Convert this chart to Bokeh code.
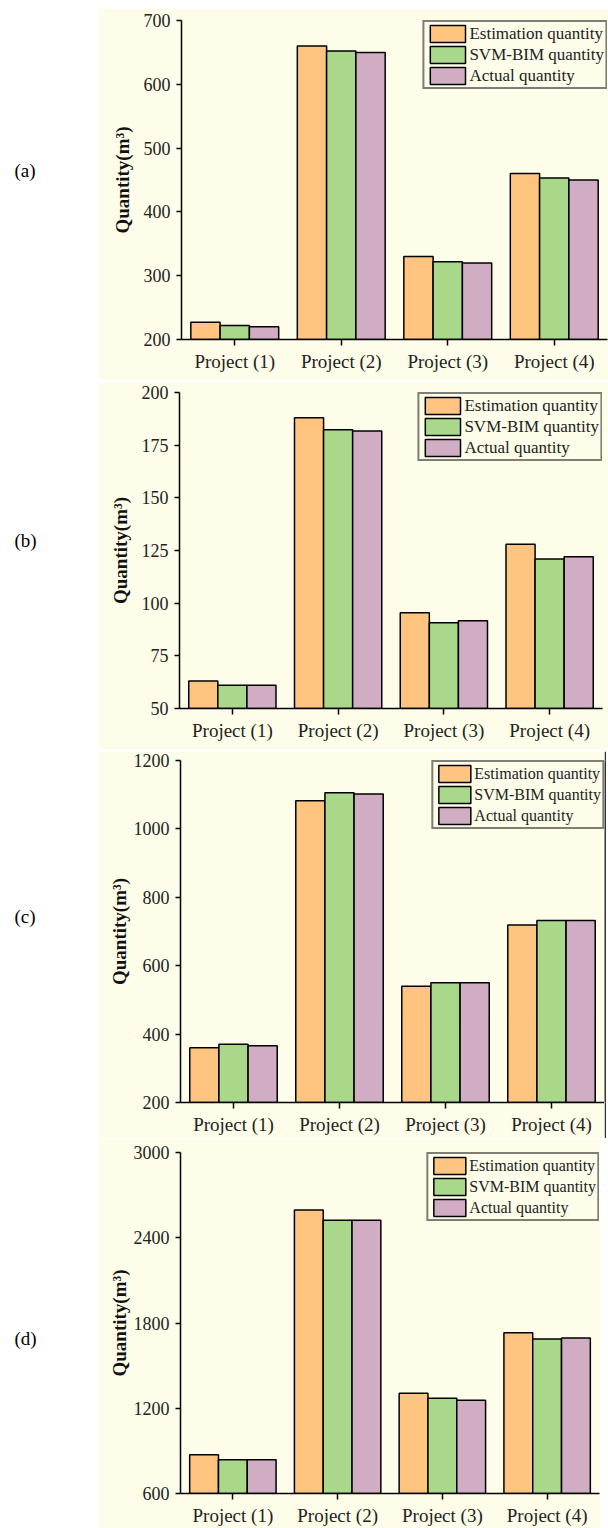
from bokeh.plotting import figure
from bokeh.layouts import row, column
from bokeh.models import ColumnDataSource, FixedTicker, Legend, LegendItem, Range1d, FactorRange
from bokeh.transform import dodge
from bokeh.core.properties import value
from bokeh.embed import file_html
from bokeh.resources import INLINE

projects = ["Project (1)", "Project (2)", "Project (3)", "Project (4)"]
series_names = ["Estimation quantity", "SVM-BIM quantity", "Actual quantity"]
series_colors = ["#FFC480", "#A9D88B", "#D1ADC4"]

a_est = [227, 660, 330, 460]
a_svm = [222, 652, 322, 453]
a_act = [220, 650, 320, 450]
a_ticks = [200, 300, 400, 500, 600, 700]

b_est = [63, 188, 95.5, 128]
b_svm = [61, 182.3, 90.7, 121]
b_act = [61, 181.7, 91.7, 122]
b_ticks = [50, 75, 100, 125, 150, 175, 200]

c_est = [360, 1082, 540, 719]
c_svm = [370, 1106, 550, 732]
c_act = [366, 1102, 550, 732]
c_ticks = [200, 400, 600, 800, 1000, 1200]

d_est = [873, 2595, 1305, 1731]
d_svm = [838, 2524, 1270, 1687]
d_act = [838, 2524, 1257, 1694]
d_ticks = [600, 1200, 1800, 2400, 3000]

panel_labels = ["(a)", "(b)", "(c)", "(d)"]
y_label = "Quantity(m³)"

CREAM = "#FEFDE9"
SERIF = "Liberation Serif"


def make_panel(est, svm, act, ticks, width, height, b_top, b_bottom, b_left, b_right,
               leg_font, leg_glyph, ylab_standoff):
    src = ColumnDataSource(dict(x=projects, est=est, svm=svm, act=act))
    p = figure(x_range=FactorRange(*projects), y_range=Range1d(ticks[0], ticks[-1]),
               width=width, height=height, output_backend="svg", toolbar_location=None,
               min_border_top=b_top, min_border_bottom=b_bottom,
               min_border_left=b_left, min_border_right=b_right)
    p.background_fill_color = CREAM
    p.border_fill_color = CREAM
    p.outline_line_color = None
    p.grid.visible = False
    rends = []
    for col, off, color in zip(["est", "svm", "act"], [-0.275, 0.0, 0.275], series_colors):
        r = p.vbar(x=dodge("x", off, range=p.x_range), top=col, bottom=ticks[0], width=0.275,
                   source=src, fill_color=color, line_color="black", line_width=1.5)
        rends.append(r)
    items = [LegendItem(label=n, renderers=[r]) for n, r in zip(series_names, rends)]
    leg = Legend(items=items, location="top_right")
    leg.label_text_font = SERIF
    leg.label_text_font_size = leg_font
    leg.label_text_color = "#222222"
    leg.glyph_width = leg_glyph
    leg.glyph_height = 21
    leg.label_height = 21
    leg.label_standoff = 0
    leg.spacing = 0
    leg.padding = 1
    leg.margin = 0
    leg.border_line_color = "black"
    leg.border_line_width = 2
    leg.background_fill_color = CREAM
    leg.background_fill_alpha = 1.0
    p.add_layout(leg)

    p.yaxis.ticker = FixedTicker(ticks=ticks)
    p.yaxis.minor_tick_line_color = None
    p.yaxis.major_tick_out = 5
    p.yaxis.major_tick_in = 0
    p.yaxis.major_label_standoff = 6
    p.yaxis.axis_label = y_label
    p.yaxis.axis_label_text_font = SERIF
    p.yaxis.axis_label_text_font_style = "bold"
    p.yaxis.axis_label_text_font_size = "19px"
    p.yaxis.axis_label_text_color = "#111111"
    p.yaxis.axis_label_standoff = ylab_standoff
    p.xaxis.major_tick_out = 6
    p.xaxis.major_tick_in = 0
    p.xaxis.major_label_standoff = 5
    p.xaxis.major_label_text_font_size = "19px"
    p.yaxis.major_label_text_font_size = "18px"
    for ax in (p.xaxis, p.yaxis):
        ax.axis_line_color = "black"
        ax.axis_line_width = 1.5
        ax.major_tick_line_color = "black"
        ax.major_tick_line_width = 1.5
        ax.major_label_text_font = SERIF
        ax.major_label_text_color = "#222222"
    return p


def block(w, h, color):
    s = figure(width=w, height=h, output_backend="svg", toolbar_location=None,
               min_border=0, x_axis_location=None, y_axis_location=None)
    s.background_fill_color = color
    s.border_fill_color = color
    s.outline_line_color = None
    s.grid.visible = False
    return s


pa = make_panel(a_est, a_svm, a_act, a_ticks, 510, 372, 12, 41, 83, 1, "17px", 44, 8)
pb = make_panel(b_est, b_svm, b_act, b_ticks, 510, 367, 10, 41, 81, 6, "17px", 44, 8)
pc = make_panel(c_est, c_svm, c_act, c_ticks, 506, 387, 9, 36, 82, 0, "16px", 40, 1)
pd = make_panel(d_est, d_svm, d_act, d_ticks, 502, 390, 14, 30, 82, 1, "16px", 40, 1)

row_a = row(pa, spacing=0)
row_b = row(pb, spacing=0)
row_c = row(pc, block(2, 387, "#333333"), block(2, 387, "white"), spacing=0)
row_d = row(pd, block(8, 390, "white"), spacing=0)

charts = column(row(block(510, 6, "white")), row(block(510, 2, "#555555")), row_a,
                row(block(510, 2, "#8a8a8a")), row_b, row(block(510, 2, "#8a8a8a")),
                row_c, row_d, spacing=0)

lab = figure(width=98, height=1528, x_range=(0, 98), y_range=(1528, 0), output_backend="svg",
             toolbar_location=None, min_border=0, x_axis_location=None, y_axis_location=None)
lab.background_fill_color = "white"
lab.border_fill_color = "white"
lab.outline_line_color = None
lab.grid.visible = False
lab_src = ColumnDataSource(dict(x=[14, 14, 14, 14], y=[170, 540, 916, 1338], t=panel_labels))
lab.text(x="x", y="y", text="t", source=lab_src, text_font=value(SERIF),
         text_font_size="19px", text_baseline="middle", text_align="left", text_color="black")

layout = row(lab, charts, spacing=0)

with open("out.html", "w") as f:
    f.write(file_html(layout, INLINE))
